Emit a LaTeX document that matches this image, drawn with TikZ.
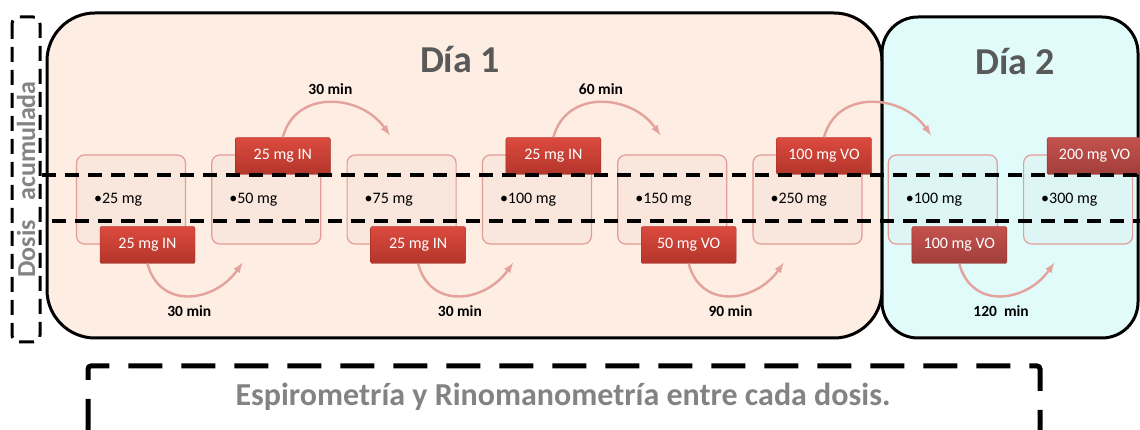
\documentclass[tikz,border=0pt]{standalone}
\usepackage{fontspec}
\setmainfont{Carlito}
\usetikzlibrary{math,positioning}

\definecolor{dayone}{HTML}{FDEDE3}
\definecolor{daytwo}{HTML}{E1FBFB}
\definecolor{boxone}{HTML}{F9E6DC}
\definecolor{boxtwo}{HTML}{DDF5F5}
\definecolor{boxline}{HTML}{E39C96}
\definecolor{tagtopone}{HTML}{DC4A3E}
\definecolor{tagbotone}{HTML}{B3352B}
\definecolor{tagtoptwo}{HTML}{C4524E}
\definecolor{tagbottwo}{HTML}{A23E3A}
\definecolor{tagline}{HTML}{9E2E26}
\definecolor{arccol}{HTML}{E3A29B}
\definecolor{titlegray}{HTML}{595959}
\definecolor{notegray}{HTML}{838383}

\tikzset{
  daybox/.style={draw=black,line width=3pt,rounded corners=48pt,inner sep=0pt},
  daytitle/.style={font=\fontsize{38}{38}\selectfont\bfseries,text=titlegray},
  dosebox/.style={draw=boxline,line width=1.2pt,rounded corners=8pt,minimum width=109pt,minimum height=89pt},
  dosebox one/.style={dosebox,fill=boxone},
  dosebox two/.style={dosebox,fill=boxtwo},
  dosetext/.style={font=\fontsize{16}{16}\selectfont,inner sep=2pt},
  tag/.style={draw=tagline,rounded corners=2pt,minimum width=95pt,minimum height=37pt,inner sep=0pt,text=white,font=\fontsize{16}{16}\selectfont},
  tag one/.style={tag,top color=tagtopone,bottom color=tagbotone},
  tag two/.style={tag,top color=tagtoptwo,bottom color=tagbottwo},
  minutes/.style={font=\fontsize{15.5}{16}\selectfont\bfseries,inner sep=0pt},
  timearc/.style={draw=arccol,line width=2.4pt,-latex},
  guide/.style={line width=3.5pt,dash pattern=on 14pt off 9pt},
}

\begin{document}
\begin{tikzpicture}[x=1pt,y=1pt]
  \clip (0,0) rectangle (1140,430);

  % the two days
  \node[daybox,fill=dayone,minimum width=835pt,minimum height=325pt] (dia1) at (464.5,254.5) {};
  \node[daybox,fill=daytwo,minimum width=256pt,minimum height=321pt,rounded corners=36pt] (dia2) at (1010,252.5) {};
  \node[daytitle] (title1) at (460,370) {Día 1};
  \node[daytitle] (title2) at (1015,368) {Día 2};

  \node[draw,line width=3pt,dash pattern=on 15pt off 8pt,rounded corners=7pt,rotate=90,
    minimum width=325pt,minimum height=28pt,inner sep=0pt,text=notegray,
    font=\fontsize{26}{26}\selectfont\bfseries] (acum) at (26,250.5) {Dosis\hspace{0.55em} acumulada};

  \foreach[count=\i] \dose/\tagtext/\side/\day in {25/25 mg IN/-1/one,50/25 mg IN/1/one,
      75/25 mg IN/-1/one,100/25 mg IN/1/one,150/50 mg VO/-1/one,250/100 mg VO/1/one,
      100/100 mg VO/-1/two,300/200 mg VO/1/two} {
    \tikzmath{
      real \bx, \ty;
      \bx = 131 + 135.3*(\i-1);
      \ty = 229.5 + \side*44.5;
    }
    \node[dosebox \day] (box\i) at (\bx,230.5) {};
    \node[dosetext,anchor=west] (dose\i) at ([xshift=16pt]box\i.west) {\textbullet\dose\ mg};
    \node[tag \day] (tag\i) at (\bx+16.5,\ty) {\tagtext};
  }

  % waiting times
  \foreach \i/\t in {1/30 min,3/30 min,5/90 min,7/120~~min} {
    \coordinate (arcend\i) at ([xshift=95pt,yshift=1pt]tag\i.south);
    \draw[timearc] (tag\i.south) to[out=-75,in=-125,looseness=1.3]
      node[midway,below=9pt,minutes] (wait\i) {\t} (arcend\i);
  }
  \foreach \i/\t in {2/30 min,4/60 min} {
    \coordinate (arcend\i) at ([xshift=107pt,yshift=2pt]tag\i.north);
    \draw[timearc] (tag\i.north) to[out=75,in=125,looseness=1.2]
      node[midway,above=7pt,minutes] (wait\i) {\t} (arcend\i);
  }
  \coordinate (arcend6) at ([xshift=107pt,yshift=2pt]tag6.north);
  \draw[timearc] (tag6.north) to[out=75,in=125,looseness=1.2] (arcend6);

  \draw[guide] (42,255) -- (1140,255);
  \draw[guide] (52,209) -- (1140,209);

  \draw[line width=5pt,dash pattern=on 34pt off 19pt,dash phase=16pt,rounded corners=3pt]
    (88,-40) |- (1040,64) -- (1040,-40);
  \node[font=\fontsize{32}{32}\selectfont\bfseries,text=notegray] (note) at (563,33)
    {Espirometría y Rinomanometría entre cada dosis.};
\end{tikzpicture}
\end{document}
